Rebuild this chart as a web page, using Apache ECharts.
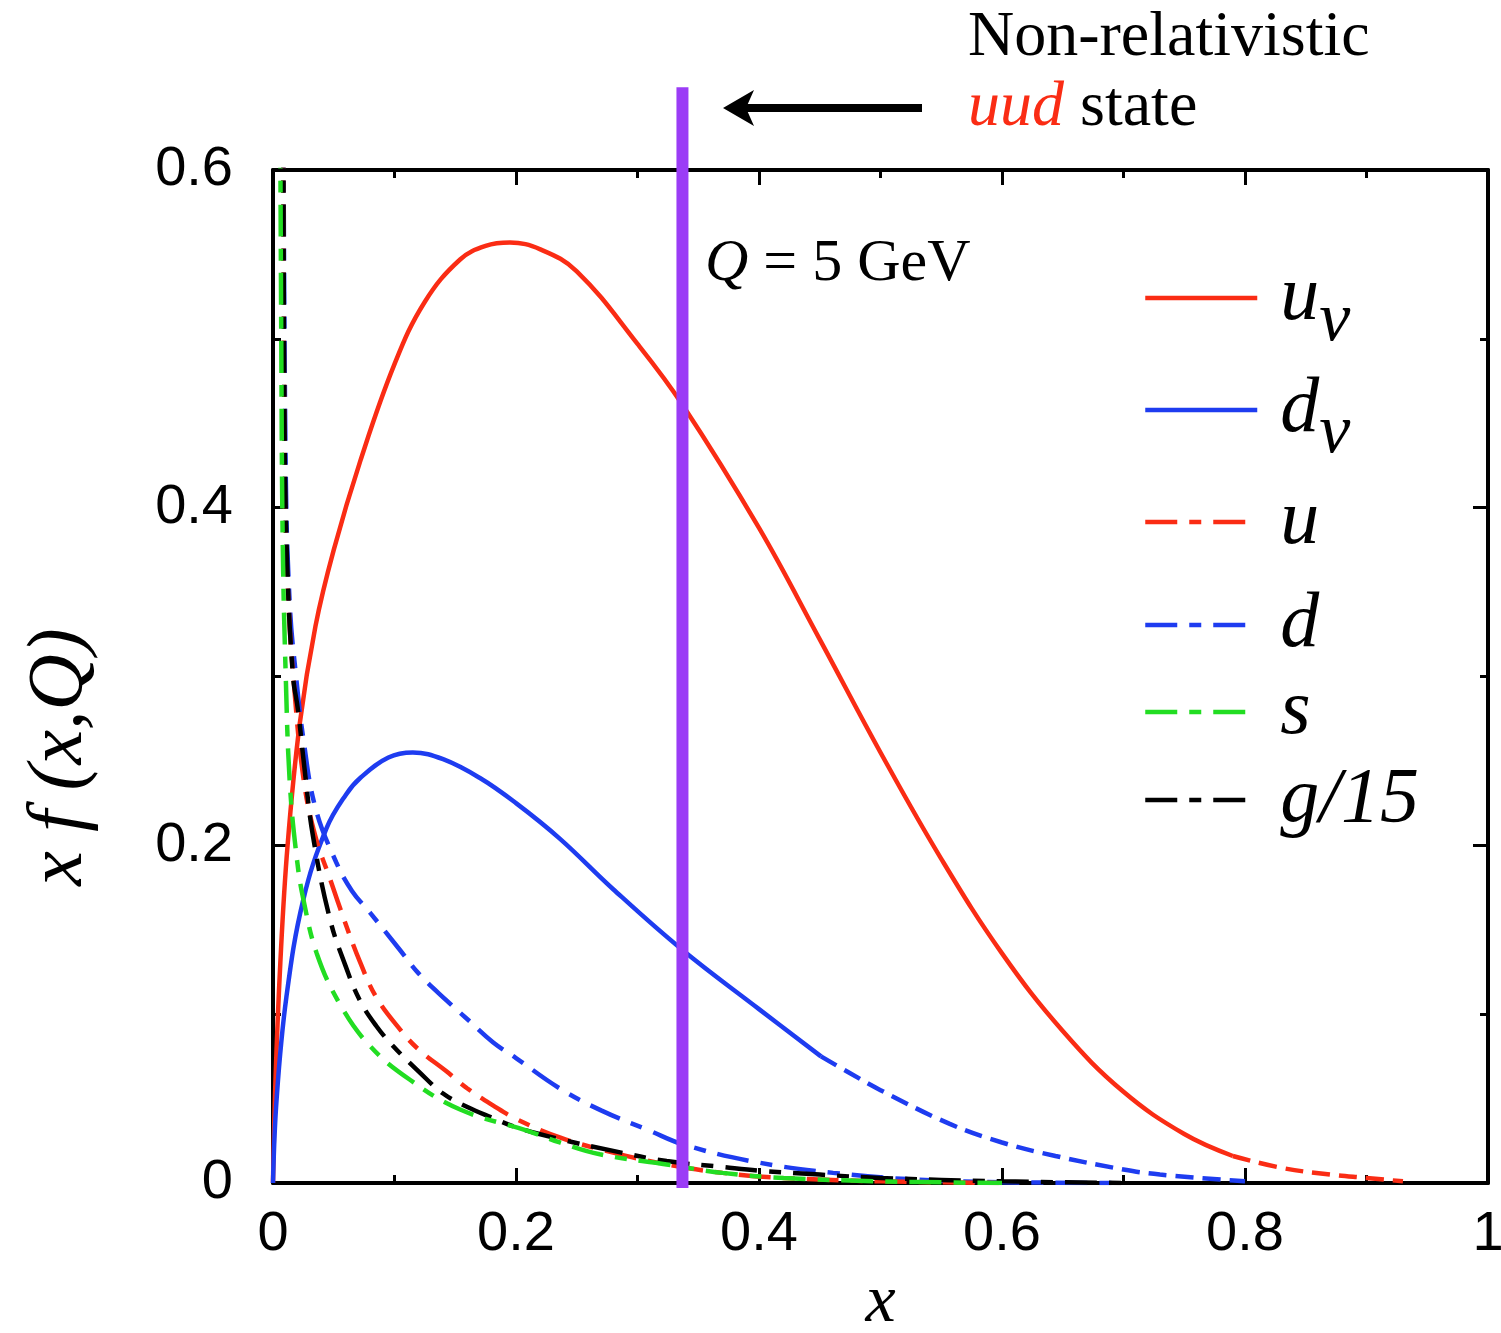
<!DOCTYPE html>
<html>
<head>
<meta charset="utf-8">
<title>x f(x,Q) at Q = 5 GeV</title>
<script src="https://cdn.jsdelivr.net/npm/echarts@6/dist/echarts.min.js"></script>
<style>
  html, body { margin: 0; padding: 0; background: #fff; }
  #chart { width: 1501px; height: 1333px; }
</style>
</head>
<body>
<div id="chart"></div>
<script>
// 读图得到的数据 [x, x f(x,Q)]
// 价夸克 u_v：实线部分 + 尾部虚线
const uvSolid = [[0, 0], [0.002, 0.06], [0.006, 0.13], [0.012, 0.2], [0.022, 0.272], [0.035, 0.33],
  [0.05, 0.375], [0.072, 0.428], [0.1, 0.485], [0.125, 0.522], [0.154, 0.547], [0.175, 0.555],
  [0.195, 0.557], [0.22, 0.553], [0.25, 0.54], [0.3, 0.497], [0.337, 0.461], [0.4, 0.388],
  [0.45, 0.322], [0.5, 0.255], [0.55, 0.192], [0.6, 0.136], [0.65, 0.09], [0.7, 0.054],
  [0.75, 0.029], [0.79, 0.016]]
const uvTail = [[0.79, 0.016], [0.83, 0.009], [0.87, 0.005], [0.9, 0.003], [0.93, 0.001]]
// 价夸克 d_v
const dvSolid = [[0, 0], [0.003, 0.05], [0.011, 0.11], [0.025, 0.168], [0.044, 0.21], [0.06, 0.23],
  [0.072, 0.24], [0.095, 0.252], [0.115, 0.255], [0.14, 0.251], [0.17, 0.24], [0.2, 0.225],
  [0.236, 0.204], [0.28, 0.174], [0.337, 0.138], [0.4, 0.103], [0.451, 0.075]]
const dvTail = [[0.451, 0.075], [0.475, 0.065], [0.5, 0.055], [0.557, 0.035], [0.6, 0.024],
  [0.644, 0.016], [0.7, 0.008], [0.73, 0.005], [0.8, 0.001]]
// 海夸克与胶子
const uSea = [[0.0083, 0.66], [0.0099, 0.4], [0.013, 0.34], [0.0167, 0.3], [0.025, 0.24], [0.035, 0.205],
  [0.047, 0.18], [0.06, 0.153], [0.0716, 0.131], [0.085, 0.11], [0.1045, 0.091], [0.12, 0.079],
  [0.143, 0.066], [0.16, 0.056], [0.181, 0.046], [0.2, 0.038], [0.236, 0.027], [0.28, 0.018],
  [0.324, 0.011], [0.37, 0.006], [0.42, 0.003], [0.5, 0.001], [0.6, 0]]
const dSea = [[0.0085, 0.66], [0.0105, 0.42], [0.014, 0.34], [0.019, 0.3], [0.025, 0.263], [0.035, 0.222],
  [0.052, 0.19], [0.065, 0.173], [0.08, 0.16], [0.1045, 0.138], [0.12, 0.124], [0.143, 0.108],
  [0.16, 0.097], [0.181, 0.0834], [0.2, 0.074], [0.236, 0.056], [0.27, 0.043], [0.31, 0.031],
  [0.337, 0.023], [0.393, 0.013], [0.461, 0.006], [0.53, 0.002], [0.6, 0.0005], [0.7, 0]]
const sSea = [[0.0058, 0.66], [0.0068, 0.5], [0.008, 0.38], [0.0105, 0.3], [0.014, 0.235], [0.02, 0.19],
  [0.025, 0.168], [0.036, 0.136], [0.055, 0.106], [0.08, 0.081], [0.113, 0.061], [0.154, 0.0435],
  [0.209, 0.031], [0.236, 0.024], [0.269, 0.017], [0.324, 0.011], [0.37, 0.006], [0.42, 0.003],
  [0.5, 0.001], [0.6, 0]]
const gluon15 = [[0.0085, 0.66], [0.0095, 0.45], [0.012, 0.36], [0.0165, 0.3], [0.0206, 0.28], [0.026, 0.245],
  [0.033, 0.205], [0.047, 0.156], [0.06, 0.128], [0.0716, 0.108], [0.085, 0.093], [0.099, 0.081],
  [0.12, 0.066], [0.14, 0.053], [0.16, 0.045], [0.181, 0.0385], [0.2, 0.033], [0.236, 0.026],
  [0.28, 0.019], [0.324, 0.013], [0.37, 0.0095], [0.406, 0.007], [0.45, 0.005], [0.5, 0.003],
  [0.6, 0.001], [0.7, 0]]
// 非相对论 uud 态所在位置 x = 1/3
const nrLine = [[0.337, -0.003], [0.337, 0.649]]

// 刻度标签
const xTickLabels = ['0', '0.2', '0.4', '0.6', '0.8', '1']
const yTickLabels = ['0', '0.2', '0.4', '0.6']

// 图例
const legendNames = ['uv', 'dv', 'u', 'd', 's', 'g15']
const legendLabels = {
  uv: '{gap|}{i|u}{sub|v}',
  dv: '{gap|}{i|d}{sub|v}',
  u: '{gap|}{i|u}',
  d: '{gap|}{i|d}',
  s: '{gap|}{i|s}',
  g15: '{gap|}{i|g/15}'
}
const legendTops = [298, 410, 522, 625, 712, 800]

const RED = '#fa2c14'
const BLUE = '#1e3cf0'
const GREEN = '#22dd22'
const BLACK = '#000'
const dashDot = [32, 12, 12, 12]
const dashTail = [18, 9]

const serif = 'Liberation Serif'
const sans = 'Liberation Sans'

function curve(name, data, color, dash) {
    return {
        type: 'line',
        name: name,
        data: data,
        showSymbol: false,
        symbol: 'none',
        smooth: 0.4,
        lineStyle: { color: color, width: 4.5, type: dash, cap: 'butt' },
        itemStyle: { color: color },
        z: 3
    }
}

const chart = echarts.init(document.getElementById('chart'), null, { renderer: 'canvas' })

const axisCommon = {
    type: 'value',
    axisLine: { show: true, onZero: false, lineStyle: { color: '#000', width: 4 } },
    axisTick: { show: true, inside: true, length: 15, lineStyle: { color: '#000', width: 3 } },
    minorTick: { show: true, splitNumber: 2, length: 8, lineStyle: { color: '#000', width: 3 } },
    splitLine: { show: false },
    minorSplitLine: { show: false }
}

const option = {
    backgroundColor: '#fff',
    animation: false,
    grid: { left: 273, right: 13, top: 170, bottom: 150, containLabel: false, outerBoundsMode: 'none' },
    xAxis: [
        Object.assign({}, axisCommon, {
            min: 0, max: 1, interval: 0.2, position: 'bottom',
            name: 'x', nameLocation: 'middle', nameGap: 86,
            nameTextStyle: { fontFamily: serif, fontStyle: 'italic', fontSize: 68, color: '#000' },
            axisLabel: {
                margin: 24, fontFamily: sans, fontSize: 56, color: '#000',
                formatter: (v) => xTickLabels[Math.round(v / 0.2)]
            }
        }),
        Object.assign({}, axisCommon, {
            min: 0, max: 1, interval: 0.2, position: 'top', axisLabel: { show: false }
        })
    ],
    yAxis: [
        Object.assign({}, axisCommon, {
            min: 0, max: 0.6, interval: 0.2, position: 'left',
            axisLabel: {
                margin: 40, fontFamily: sans, fontSize: 56, color: '#000',
                formatter: (v) => yTickLabels[Math.round(v / 0.2)]
            }
        }),
        Object.assign({}, axisCommon, {
            min: 0, max: 0.6, interval: 0.2, position: 'right', axisLabel: { show: false }
        })
    ],
    legend: legendNames.map((n, i) => ({
        data: [n],
        left: 1138,
        top: legendTops[i] - 44,
        itemWidth: 112,
        itemHeight: 14,
        selectedMode: false,
        formatter: (name) => legendLabels[name],
        itemStyle: { color: 'transparent', borderColor: 'transparent', borderWidth: 0, opacity: 0 },
        lineStyle: { width: 4.5 },
        textStyle: {
            color: '#000',
            rich: {
                gap: { width: 18 },
                i: { fontFamily: serif, fontStyle: 'italic', fontSize: 78, color: '#000' },
                sub: { fontFamily: serif, fontStyle: 'italic', fontSize: 70, color: '#000', padding: [48, 0, 0, 0] }
            }
        }
    })),
    series: [
        curve('uv', uvSolid, RED, 'solid'),
        curve('uvTail', uvTail, RED, dashTail),
        curve('dv', dvSolid, BLUE, 'solid'),
        curve('dvTail', dvTail, BLUE, dashTail),
        curve('d', dSea, BLUE, dashDot),
        curve('u', uSea, RED, dashDot),
        curve('g15', gluon15, BLACK, dashDot),
        curve('s', sSea, GREEN, dashDot),
        {
            type: 'line',
            name: 'nr',
            data: nrLine,
            symbol: 'none',
            clip: false,
            lineStyle: { color: '#9b3cf6', width: 12, cap: 'butt' },
            z: 10
        }
    ],
    graphic: [
        // 箭头
        { type: 'line', shape: { x1: 922, y1: 108, x2: 745, y2: 108 }, style: { stroke: '#000', lineWidth: 8 }, z: 20 },
        { type: 'polygon', shape: { points: [[723, 108], [754, 90], [746, 108], [754, 126]] }, style: { fill: '#000' }, z: 20 },
        // 注释文字
        {
            type: 'text', left: 968, top: 6, z: 20,
            style: { text: 'Non-relativistic', fontFamily: serif, fontSize: 64, fill: '#000' }
        },
        {
            type: 'text', left: 968, top: 76, z: 20,
            style: {
                text: '{r|uud}{k| state}',
                rich: {
                    r: { fontFamily: serif, fontStyle: 'italic', fontSize: 64, fill: RED },
                    k: { fontFamily: serif, fontSize: 64, fill: '#000' }
                }
            }
        },
        {
            type: 'text', left: 705, top: 234, z: 20,
            style: {
                text: '{q|Q}{k| = 5 GeV}',
                rich: {
                    q: { fontFamily: serif, fontStyle: 'italic', fontSize: 60, fill: '#000' },
                    k: { fontFamily: serif, fontSize: 60, fill: '#000' }
                }
            }
        },
        // y 轴标题
        {
            type: 'text', x: 60, y: 757, rotation: Math.PI / 2, z: 20,
            style: {
                text: 'x f (x,Q)', fontFamily: serif, fontStyle: 'italic', fontSize: 78, fill: '#000',
                align: 'center', verticalAlign: 'middle'
            }
        }
    ]
}

chart.setOption(option)
</script>
</body>
</html>
